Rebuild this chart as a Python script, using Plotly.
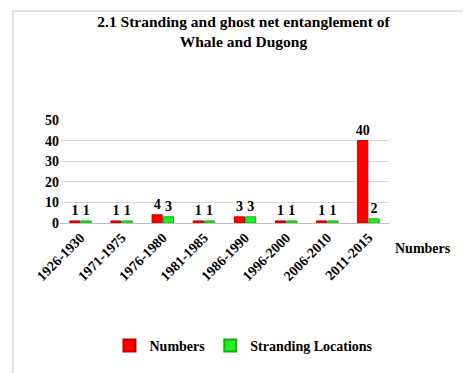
import plotly.graph_objects as go

categories = ["1926-1930", "1971-1975", "1976-1980", "1981-1985",
              "1986-1990", "1996-2000", "2006-2010", "2011-2015"]
numbers = [1, 1, 4, 1, 3, 1, 1, 40]
stranding = [1, 1, 3, 1, 3, 1, 1, 2]
y_ticks = [0, 10, 20, 30, 40, 50]

W, H = 471, 373
L, R, T, B = 52, 90, 112, 158
pw, ph = W - L - R, H - T - B

def px2x(px):
    return (px - L) / pw

def py2y(py):
    return (H - B - py) / ph

serif = "Liberation Serif"

fig = go.Figure()
fig.add_trace(go.Bar(
    x=categories, y=numbers, name="Numbers",
    marker=dict(color="#ff0000", line=dict(color="#c00000", width=1)),
    texttemplate="<b>%{y}</b>", textposition="outside", constraintext="none",
    textfont=dict(family=serif, size=14, color="black"),
    cliponaxis=False,
))
fig.add_trace(go.Bar(
    x=categories, y=stranding, name="Stranding Locations",
    marker=dict(color="#22ee22", line=dict(color="#10b010", width=1)),
    texttemplate="<b>%{y}</b>", textposition="outside", constraintext="none",
    textfont=dict(family=serif, size=14, color="black"),
    cliponaxis=False,
))

fig.update_layout(
    width=W, height=H,
    margin=dict(l=L, r=R, t=T, b=B),
    paper_bgcolor="white", plot_bgcolor="white",
    barmode="group", bargap=0.45, bargroupgap=0.1,
    font=dict(family=serif, size=14, color="black"),
    title=dict(
        text="<b>2.1 Stranding and ghost net entanglement of<br>Whale and Dugong</b>",
        x=0.5, xref="container", xanchor="center",
        y=1 - 19 / H, yanchor="top",
        font=dict(family=serif, size=15.5, color="black"),
    ),
    xaxis=dict(
        tickangle=-45, showgrid=False, showline=True, linecolor="#bfbfbf",
        tickfont=dict(family=serif, size=14, color="black", weight="bold"),
        ticks="",
    ),
    yaxis=dict(
        range=[0, 50], tickvals=y_ticks, showgrid=True, gridcolor="#d9d9d9",
        zeroline=False, showline=False, ticks="",
        tickfont=dict(family=serif, size=14, color="black", weight="bold"),
    ),
    legend=dict(
        orientation="h", x=px2x(236), xanchor="center", y=py2y(322), yanchor="top",
        font=dict(family=serif, size=14, color="black", weight="bold"),
        itemwidth=30, itemsizing="constant",
    ),
    showlegend=True,
)

fig.add_annotation(
    text="<b>Numbers</b>", xref="paper", yref="paper",
    x=px2x(385), y=py2y(240), xanchor="left", yanchor="middle",
    showarrow=False, font=dict(family=serif, size=14, color="black"),
)

fig.add_shape(
    type="rect", xref="paper", yref="paper",
    x0=px2x(5), x1=px2x(466), y0=py2y(368), y1=py2y(3),
    line=dict(color="#d9d9d9", width=1.5), layer="below",
)

fig.write_html("out.html")
